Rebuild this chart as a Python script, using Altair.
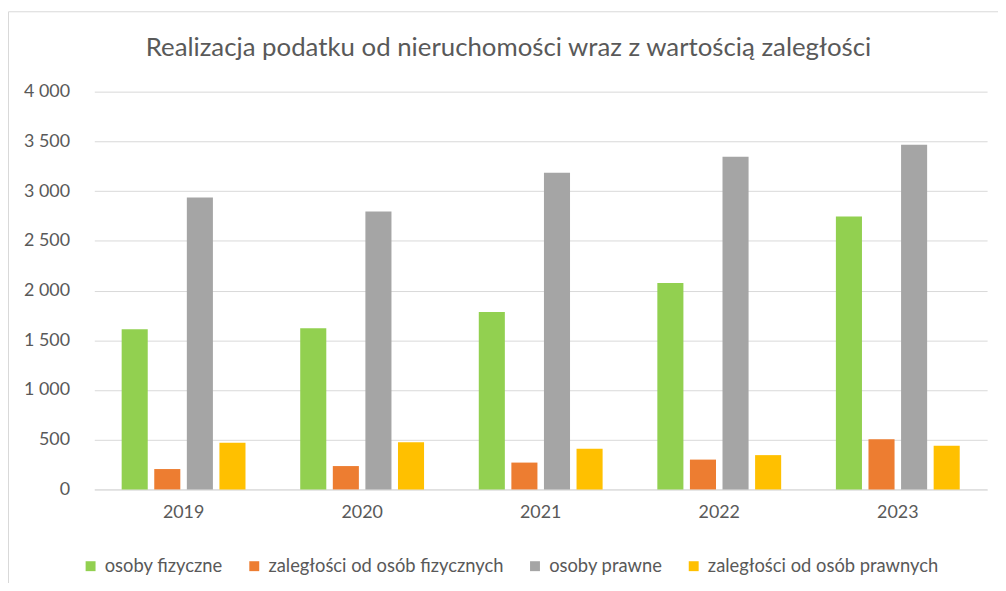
import altair as alt
import pandas as pd

years = ["2019", "2020", "2021", "2022", "2023"]
series = ["osoby fizyczne", "zaległości od osób fizycznych", "osoby prawne", "zaległości od osób prawnych"]
osoby_fizyczne = [1610, 1620, 1785, 2075, 2745]
zaleglosci_fizyczne = [205, 235, 270, 300, 505]
osoby_prawne = [2935, 2795, 3185, 3345, 3465]
zaleglosci_prawne = [470, 475, 410, 345, 440]
colors = ["#92d050", "#ed7d31", "#a5a5a5", "#ffc000"]
y_ticks = [0, 500, 1000, 1500, 2000, 2500, 3000, 3500, 4000]
title_text = ["Realizacja podatku od nieruchomości wraz z wartością zaległości"]

rows = []
for name, vals in zip(series, [osoby_fizyczne, zaleglosci_fizyczne, osoby_prawne, zaleglosci_prawne]):
    for y, v in zip(years, vals):
        rows.append({"rok": y, "seria": name, "wartosc": v})
df = pd.DataFrame(rows)

FONT = "Lato"
TXT = "#595959"

bars = alt.Chart(df).mark_bar().encode(
    x=alt.X("rok:N", sort=years, title=None,
            scale=alt.Scale(paddingInner=0.27, paddingOuter=0.135),
            axis=alt.Axis(labelAngle=0, ticks=False, labelPadding=14, labelFontSize=18,
                          labelColor=TXT, labelFont=FONT, domainColor="#d9d9d9", grid=False)),
    xOffset=alt.XOffset("seria:N", sort=series, scale=alt.Scale(paddingInner=0.2, paddingOuter=0.1)),
    y=alt.Y("wartosc:Q", title=None,
            scale=alt.Scale(domain=[0, 4000]),
            axis=alt.Axis(values=y_ticks, ticks=False, domain=False, labelPadding=25,
                          labelFontSize=18, labelColor=TXT, labelFont=FONT,
                          gridColor="#d9d9d9", gridWidth=1,
                          labelExpr="replace(format(datum.value, ','), ',', ' ')")),
    color=alt.Color("seria:N", sort=series, title=None,
                    scale=alt.Scale(domain=series, range=colors),
                    legend=alt.Legend(orient="none", legendX=-13, legendY=469, direction="horizontal",
                                      symbolType="square", symbolSize=100, symbolStrokeWidth=0,
                                      labelFontSize=18.5, labelColor=TXT, labelFont=FONT, labelLimit=0,
                                      columnPadding=22, symbolOffset=0, labelOffset=5)),
)

frame = alt.Chart(pd.DataFrame({"a": [0]})).mark_rect(fill=None, stroke="#d9d9d9", strokeWidth=1).encode(
    x=alt.value(-86.5), x2=alt.value(1100), y=alt.value(-80.5), y2=alt.value(700)
)

title = alt.Chart(pd.DataFrame({"t": title_text})).mark_text(
    font=FONT, fontSize=26, color=TXT, align="center", baseline="alphabetic"
).encode(text="t:N", x=alt.value(417.5), y=alt.value(-36))

chart = alt.layer(frame, bars, title).properties(
    width=900, height=401,
    autosize=alt.AutoSizeParams(type="none"),
    padding={"left": 87, "top": 82, "right": 11, "bottom": 92},
).configure_view(stroke=None)

chart.save("out.html", embed_options={"renderer": "svg", "actions": False})
